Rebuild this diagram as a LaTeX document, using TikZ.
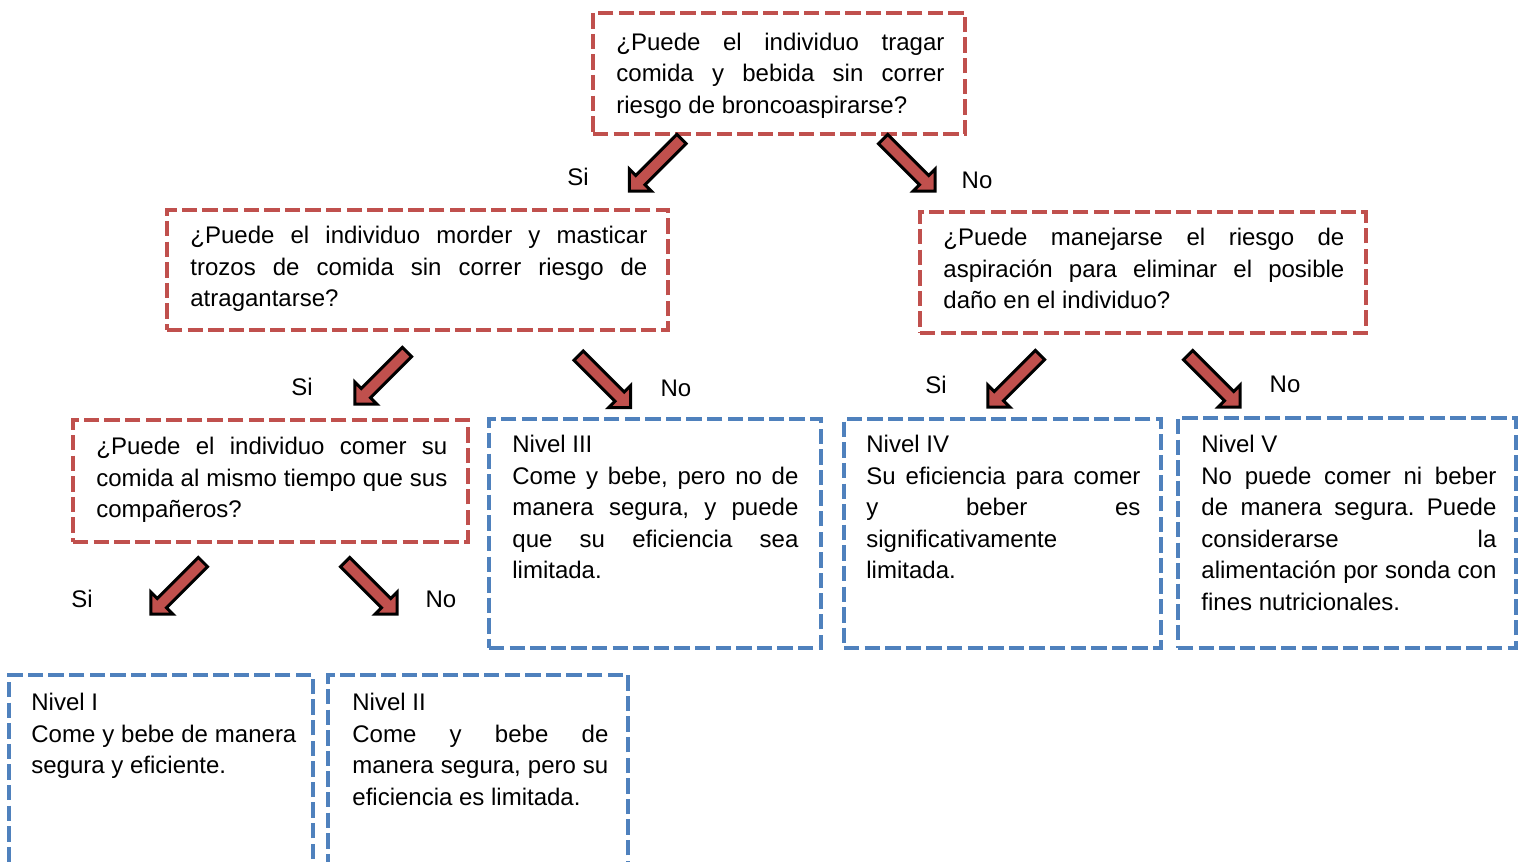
\documentclass[tikz,border=0pt]{standalone}
\usepackage{fontspec}
\setmainfont{Liberation Sans}
\definecolor{cred}{HTML}{C0504D}
\definecolor{cblue}{HTML}{4F81BD}
\tolerance=10000 \hbadness=10000 \hyphenpenalty=10000 \exhyphenpenalty=10000
\frenchspacing
\newcommand{\blockarr}[2]{%
  \begin{scope}[shift={#1},rotate=#2]
    \draw[barr] (1.5,-6.5) -- (59.5,-6.5) -- (59.5,-15.5) -- (75,0) -- (59.5,15.5) -- (59.5,6.5) -- (1.5,6.5) -- cycle;
  \end{scope}}
\newcommand{\st}{\rule{0pt}{9pt}}
\begin{document}
\begin{tikzpicture}[x=0.5pt,y=-0.5pt,
  boxr/.style={draw=cred, line width=2pt, dash pattern=on 7.7pt off 2.6pt, inner sep=0pt, outer sep=0pt, anchor=north west},
  boxb/.style={draw=cblue, line width=2pt, dash pattern=on 7.7pt off 2.6pt, inner sep=0pt, outer sep=0pt, anchor=north west},
  txt/.style={anchor=north west, inner sep=0pt, align=justify, font=\fontsize{12}{15.8}\selectfont\frenchspacing},
  lbl/.style={inner sep=0pt, font=\fontsize{12}{14}\selectfont},
  barr/.style={draw=black, line width=1.5pt, fill=cred, line join=miter}]
\useasboundingbox (0,0) rectangle (1524,861);
\clip (0,0) rectangle (1524,861);

% boxes
\node[boxr, minimum width=186pt, minimum height=60.5pt] (q1) at (593,13) {};
\node[boxr, minimum width=250.5pt, minimum height=60pt] (q2) at (167,210) {};
\node[boxr, minimum width=223pt, minimum height=60.5pt] (q3) at (920,212) {};
\node[boxr, minimum width=197.5pt, minimum height=61pt] (q4) at (73,420) {};
\node[boxb, minimum width=166pt, minimum height=114.25pt] (n3) at (489,419) {};
\node[boxb, minimum width=158.5pt, minimum height=114.25pt] (n4) at (844,419) {};
\node[boxb, minimum width=169pt, minimum height=114.75pt] (n5) at (1178,418) {};
\node[boxb, minimum width=151.75pt, minimum height=105pt] (n1) at (9,675) {};
\node[boxb, minimum width=150pt, minimum height=105pt] (n2) at (328,675) {};

% texts
\node[txt, text width=164pt] (t1) at (616,32) {\st¿Puede el individuo tragar\linebreak comida y bebida sin correr\linebreak riesgo de broncoaspirarse?};
\node[txt, text width=228.5pt] (t2) at (190,225) {\st¿Puede el individuo morder y masticar\linebreak trozos de comida sin correr riesgo de\linebreak atragantarse?};
\node[txt, text width=200.5pt] (t3) at (943,227) {\st¿Puede manejarse el riesgo de\linebreak aspiración para eliminar el posible\linebreak daño en el individuo?};
\node[txt, text width=175.5pt] (t4) at (96,436) {\st¿Puede el individuo comer su\linebreak comida al mismo tiempo que sus\linebreak compañeros?};
\node[txt, text width=143pt] (t5) at (512,434) {\st Nivel III\\ Come y bebe, pero no de\linebreak manera segura, y puede\linebreak que su eficiencia sea\linebreak limitada.};
\node[txt, text width=137pt] (t6) at (866,434) {\st Nivel IV\\ Su eficiencia para comer\linebreak y beber es\linebreak significativamente\\ limitada.};
\node[txt, text width=147.5pt] (t7) at (1201,434) {\st Nivel V\\ No puede comer ni beber\linebreak de manera segura. Puede\linebreak considerarse la\linebreak alimentación por sonda con\linebreak fines nutricionales.};
\node[txt, text width=132.5pt] (t8) at (31,692) {\st Nivel I\\ Come y bebe de manera\linebreak segura y eficiente.};
\node[txt, text width=128pt] (t9) at (352,692) {\st Nivel II\\ Come y bebe de\linebreak manera segura, pero su\linebreak eficiencia es limitada.};

% labels
\node[lbl] (s1) at (578,177) {Si};
\node[lbl] (o1) at (977,180) {No};
\node[lbl] (s2) at (302,387) {Si};
\node[lbl] (o2) at (676,388) {No};
\node[lbl] (s3) at (936,385) {Si};
\node[lbl] (o3) at (1285,384) {No};
\node[lbl] (s4) at (82,599) {Si};
\node[lbl] (o4) at (441,599) {No};

% block arrows
\blockarr{(682.5,138)}{-135}
\blockarr{(882,138)}{-45}
\blockarr{(408,351)}{-135}
\blockarr{(577.5,354.5)}{-45}
\blockarr{(1041,354)}{-135}
\blockarr{(1187,354)}{-45}
\blockarr{(204,561)}{-135}
\blockarr{(344,561)}{-45}
\end{tikzpicture}
\end{document}
